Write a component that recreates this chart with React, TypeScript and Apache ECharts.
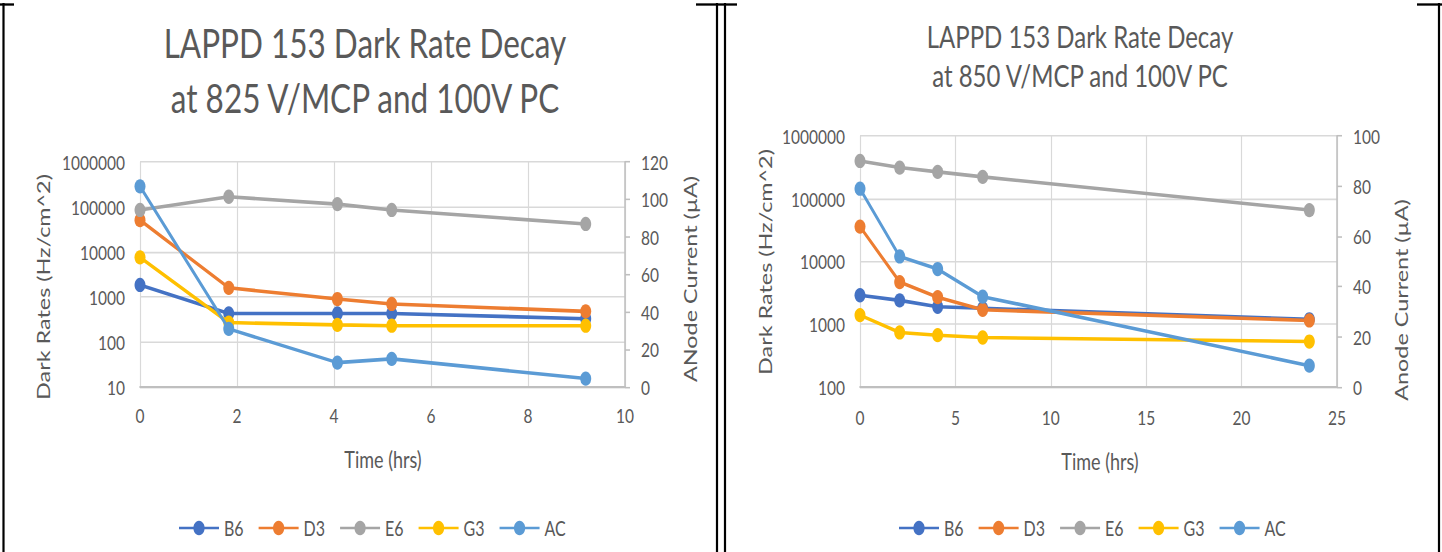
import React, { useEffect, useRef } from "react";
import * as echarts from "echarts";

// ---------- data ----------
const seriesNames = ["B6", "D3", "E6", "G3", "AC"];
const seriesColors = ["#4472C4", "#ED7D31", "#A5A5A5", "#FFC000", "#5B9BD5"];

// Left chart: 825 V/MCP
const leftTime = [0, 1.83, 4.07, 5.19, 9.19];
const leftB6 = [1850, 430, 430, 430, 330];
const leftD3 = [51000, 1600, 900, 700, 480];
const leftE6 = [86000, 169000, 116000, 86000, 42000];
const leftG3 = [7600, 270, 240, 230, 230];
const leftAC = [107, 31, 13, 15, 4.5]; // anode current (µA), secondary axis

// Right chart: 850 V/MCP
const rightTime = [0, 2.08, 4.07, 6.43, 23.55];
const rightB6 = [2900, 2400, 1900, 1800, 1200];
const rightD3 = [36000, 4700, 2700, 1700, 1150];
const rightE6 = [400000, 314000, 268000, 223000, 66000];
const rightG3 = [1400, 740, 670, 615, 530];
const rightAC = [79, 52, 47, 36, 8.5]; // anode current (µA), secondary axis

const leftTitle = ["LAPPD 153 Dark Rate Decay", "at 825 V/MCP and 100V PC"];
const rightTitle = ["LAPPD 153 Dark Rate Decay", "at 850 V/MCP and 100V PC"];
const leftYName = "Dark Rates (Hz/cm^2)";
const leftY2Name = "ANode Current (\u00b5A)";
const rightYName = "Dark Rates (Hz/cm^2)";
const rightY2Name = "Anode Current (\u00b5A)";
const xName = "Time (hrs)";

// ---------- layout ----------
const W = 1442;
const H = 552;
const IH = 425; // internal height, stretched vertically to H
const S = H / IH;
const iy = (y: number) => y / S;
const FONT = "Lato, 'Open Sans', sans-serif";
const GREY = "#595959";

function zip(t: number[], v: number[]) {
  return t.map((x, i) => [x, v[i]]);
}

export default function App() {
  const ref = useRef<HTMLDivElement>(null);

  useEffect(() => {
    document.body.style.margin = "0";
    const el = ref.current!;
    const chart = echarts.init(el, null, { renderer: "svg" });

    const leftData = [leftB6, leftD3, leftE6, leftG3, leftAC];
    const rightData = [rightB6, rightD3, rightE6, rightG3, rightAC];

    const mkSeries = (
      data: number[][],
      time: number[],
      xi: number,
      yLog: number,
      yLin: number
    ) =>
      seriesNames.map((name, i) => ({
        name,
        type: "line",
        xAxisIndex: xi,
        yAxisIndex: name === "AC" ? yLin : yLog,
        data: zip(time, data[i]),
        symbol: "circle",
        symbolSize: 11,
        showSymbol: true,
        lineStyle: { width: 2.75, color: seriesColors[i] },
        itemStyle: { color: seriesColors[i] },
        z: 2 + i,
      }));

    const xAxisCommon = (gi: number, max: number, interval: number, margin: number) => ({
      type: "value",
      gridIndex: gi,
      min: 0,
      max,
      interval,
      axisLine: { show: true, lineStyle: { color: "#bfbfbf", width: 1.5 } },
      axisTick: { show: false },
      splitLine: { show: true, lineStyle: { color: "#d9d9d9", width: 1.2 } },
      axisLabel: { color: GREY, fontSize: 15.5, fontFamily: FONT, margin },
    });

    const logAxis = (gi: number, min: number) => ({
      type: "log",
      gridIndex: gi,
      logBase: 10,
      min,
      max: 1000000,
      position: "left",
      axisLine: { show: false },
      axisTick: { show: false },
      splitLine: { show: true, lineStyle: { color: "#d9d9d9", width: 1.2 } },
      axisLabel: {
        color: GREY,
        fontSize: 15.5,
        fontFamily: FONT,
        margin: 15,
        formatter: (v: number) => String(Math.round(v)),
      },
    });

    const linAxis = (gi: number, max: number) => ({
      type: "value",
      gridIndex: gi,
      min: 0,
      max,
      interval: 20,
      position: "right",
      axisLine: { show: true, lineStyle: { color: "#bfbfbf", width: 1.5 } },
      axisTick: { show: true, inside: false, length: 5, lineStyle: { color: "#bfbfbf", width: 1.2 } },
      splitLine: { show: false },
      axisLabel: { color: GREY, fontSize: 15.5, fontFamily: FONT, margin: 16 },
    });

    const txt = (
      text: string,
      x: number,
      yFinal: number,
      size: number,
      rotation = 0,
      weight: any = "normal"
    ) => ({
      type: "text",
      x,
      y: iy(yFinal),
      rotation,
      silent: true,
      style: {
        text,
        fill: GREY,
        fontSize: size,
        fontFamily: FONT,
        fontWeight: weight,
        align: "center",
        verticalAlign: "middle",
      },
    });

    const vline = (x: number) => ({
      type: "line",
      silent: true,
      shape: { x1: x, y1: iy(3), x2: x, y2: IH },
      style: { stroke: "#000", lineWidth: 2.2 },
    });
    const hline = (x1: number, x2: number) => ({
      type: "line",
      silent: true,
      shape: { x1, y1: iy(4.5), x2, y2: iy(4.5) },
      style: { stroke: "#000", lineWidth: 1.8 },
    });

    const legendCommon = {
      orient: "horizontal",
      top: iy(528) - 8,
      itemWidth: 40,
      itemHeight: 14,
      itemGap: 14,
      padding: 0,
      data: seriesNames,
      textStyle: { color: GREY, fontSize: 16, fontFamily: FONT },
    };

    const option: any = {
      animation: false,
      backgroundColor: "#ffffff",
      textStyle: { fontFamily: FONT },
      grid: [
        { left: 140, width: 625 - 140, top: iy(162), height: iy(387) - iy(162) },
        { left: 860, width: 1337 - 860, top: iy(136), height: iy(387) - iy(136) },
      ],
      xAxis: [xAxisCommon(0, 10, 2, 14), xAxisCommon(1, 25, 5, 15)],
      yAxis: [logAxis(0, 10), linAxis(0, 120), logAxis(1, 100), linAxis(1, 100)],
      legend: [
        { ...legendCommon, left: 178 },
        { ...legendCommon, left: 898 },
      ],
      series: [
        ...mkSeries(leftData, leftTime, 0, 0, 1),
        ...mkSeries(rightData, rightTime, 1, 2, 3),
      ],
      graphic: [
        // panel borders
        vline(3.5),
        vline(717),
        vline(725),
        vline(1439),
        hline(0, 14),
        hline(696, 722),
        hline(722, 737),
        hline(1417, 1442),
        // titles
        txt(leftTitle[0], 365, 42.5, 31.5, 0, "normal"),
        txt(leftTitle[1], 365, 97.5, 31.5, 0, "normal"),
        txt(rightTitle[0], 1080, 36.5, 24, 0, "normal"),
        txt(rightTitle[1], 1080, 75.5, 24, 0, "normal"),
        // axis names
        txt(leftYName, 43, 287, 18, Math.PI / 2),
        txt(leftY2Name, 690, 279, 18, Math.PI / 2),
        txt(xName, 383, 458, 18),
        txt(rightYName, 765, 262, 18, Math.PI / 2),
        txt(rightY2Name, 1401, 300, 18, Math.PI / 2),
        txt(xName, 1100, 460, 18),
      ],
    };

    chart.setOption(option);
    return () => chart.dispose();
  }, []);

  return (
    <div
      style={{
        width: W,
        height: H,
        overflow: "hidden",
        position: "relative",
        background: "#fff",
      }}
    >
      <div
        ref={ref}
        style={{
          width: W,
          height: IH,
          transform: `scaleY(${S})`,
          transformOrigin: "0 0",
        }}
      />
    </div>
  );
}
